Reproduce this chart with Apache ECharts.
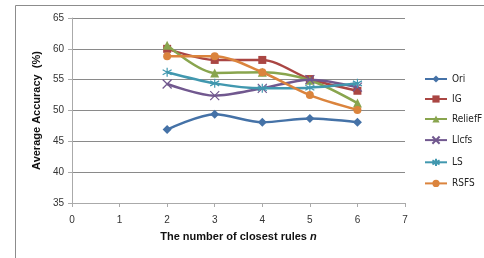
<!DOCTYPE html>
<html>
<head>
<meta charset="utf-8">
<script src="https://cdn.jsdelivr.net/npm/echarts@6/dist/echarts.min.js"></script>
<style>
  html, body { margin: 0; padding: 0; background: #fff; }
  #chart { width: 484px; height: 258px; }
</style>
</head>
<body>
<div id="chart"></div>
<script>
// number of closest rules n
var ruleCounts = [2, 3, 4, 5, 6];

// average accuracy (%) per method
var ori = [46.9, 49.4, 48.1, 48.7, 48.1];
var ig = [60.0, 58.2, 58.2, 55.1, 53.2];
var relieff = [60.6, 56.1, 56.2, 54.9, 51.2];
var llcfs = [54.3, 52.4, 53.6, 55.0, 53.8];
var ls = [56.2, 54.4, 53.6, 53.7, 54.4];
var rsfs = [58.8, 58.8, 56.2, 52.5, 50.1];

var seriesNames = ['Ori', 'IG', 'ReliefF', 'Llcfs', 'LS', 'RSFS'];

var colors = ['#4572A7', '#AA4643', '#89A54E', '#71588F', '#4198AF', '#DB843D'];

var crossPath = 'path://M-7,-7L7,7M-7,7L7,-7';
var starPath = 'path://M0,-9L0,9M-8,-5L8,5M-8,5L8,-5';

function pairs(vals) {
  return ruleCounts.map(function(n, i) { return [n, vals[i]]; });
}

function makeSeries(name, vals, idx, symbol, size, strokeOnly) {
  var s = {
    name: name,
    type: 'line',
    smooth: 0.3,
    data: pairs(vals),
    symbol: symbol,
    symbolSize: size,
    lineStyle: { width: 2.5, color: colors[idx] },
    itemStyle: { color: colors[idx] },
    z: 2 + idx
  };
  if (strokeOnly) {
    s.itemStyle = { color: 'none', borderColor: colors[idx], borderWidth: 1.2 };
  }
  return s;
}

var chart = echarts.init(document.getElementById('chart'), null, { renderer: 'canvas' });

var option = {
  animation: false,
  color: colors,
  grid: { left: 72, right: 79, top: 18, bottom: 55 },
  graphic: [{
    type: 'rect',
    shape: { x: 15.5, y: 5.5, width: 480, height: 270 },
    style: { fill: 'none', stroke: '#8c8c8c', lineWidth: 1 },
    silent: true
  }],
  legend: {
    orient: 'vertical',
    left: 424,
    top: 74,
    padding: 0,
    itemWidth: 22,
    itemHeight: 9,
    itemGap: 10,
    data: seriesNames,
    textStyle: { fontFamily: 'DejaVu Sans Condensed, Liberation Sans, Arial', fontSize: 10, color: '#222' }
  },
  xAxis: {
    type: 'value',
    min: 0,
    max: 7,
    interval: 1,
    name: '{a|The number of closest rules }{b|n}',
    nameLocation: 'middle',
    nameGap: 28,
    nameTextStyle: {
      rich: {
        a: { fontFamily: 'Liberation Sans, Arial', fontSize: 11, fontWeight: 'bold', color: '#111' },
        b: { fontFamily: 'Liberation Sans, Arial', fontSize: 11, fontWeight: 'bold', fontStyle: 'italic', color: '#111' }
      }
    },
    axisLine: { show: true, lineStyle: { color: '#aaa' } },
    axisTick: { show: true, inside: false, length: 4, lineStyle: { color: '#aaa' } },
    axisLabel: { fontFamily: 'Liberation Sans, Arial', fontSize: 10, color: '#333', margin: 12 },
    splitLine: { show: false }
  },
  yAxis: {
    type: 'value',
    min: 35,
    max: 65,
    interval: 5,
    name: 'Average Accuracy  (%)',
    nameLocation: 'middle',
    nameGap: 28,
    nameTextStyle: { fontFamily: 'Liberation Sans, Arial', fontSize: 11, fontWeight: 'bold', color: '#111' },
    axisLine: { show: true, lineStyle: { color: '#aaa' } },
    axisTick: { show: true, inside: false, length: 4, lineStyle: { color: '#aaa' } },
    axisLabel: { fontFamily: 'Liberation Sans, Arial', fontSize: 10, color: '#333', margin: 8 },
    splitLine: { show: true, lineStyle: { color: '#8a8a8a', width: 1 } }
  },
  series: [
    makeSeries('Ori', ori, 0, 'diamond', 9, false),
    makeSeries('IG', ig, 1, 'rect', 8, false),
    makeSeries('ReliefF', relieff, 2, 'triangle', 9, false),
    makeSeries('Llcfs', llcfs, 3, crossPath, 9, true),
    makeSeries('LS', ls, 4, starPath, 9, true),
    makeSeries('RSFS', rsfs, 5, 'circle', 8, false)
  ]
};

chart.setOption(option);
</script>
</body>
</html>
